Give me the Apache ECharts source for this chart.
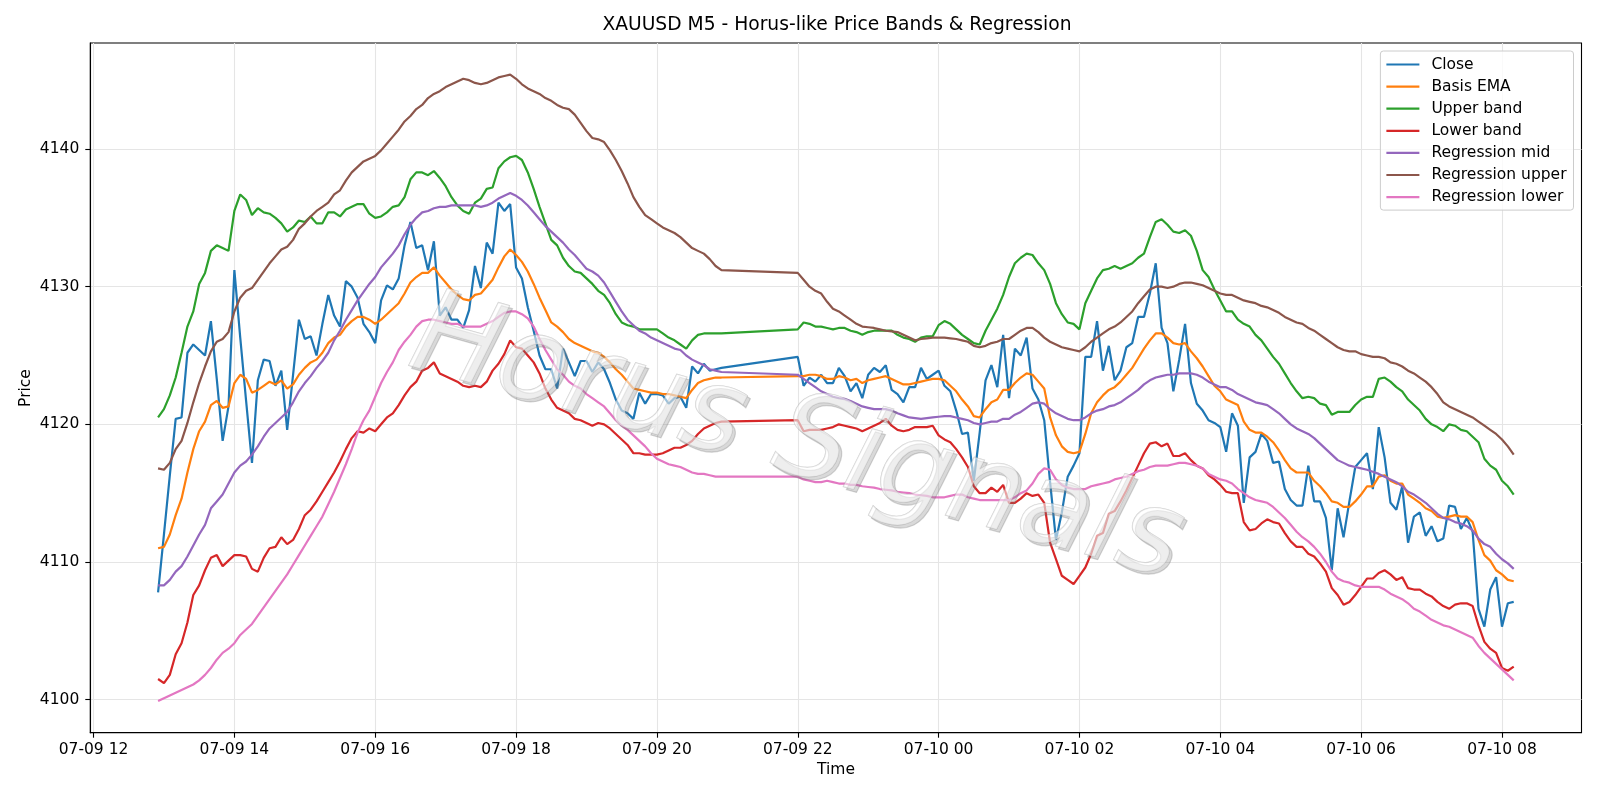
<!DOCTYPE html>
<html><head><meta charset="utf-8">
<script src="https://cdn.jsdelivr.net/npm/echarts@6/dist/echarts.min.js"></script>
<style>html,body{margin:0;padding:0;background:#fff}#c{width:1600px;height:800px}</style>
</head><body><div id="c"></div>
<script>
// ---- Data (minutes counted from 07-09 00:00) ----
const session1 = [775, 1255];   // 07-09 12:55 .. 20:55, 5-minute bars
const session2 = [1320, 1930];  // 07-09 22:00 .. 07-10 08:10
const xTickMinutes = [720, 840, 960, 1080, 1200, 1320, 1440, 1560, 1680, 1800, 1920];
const xTickLabels = ['07-09 12','07-09 14','07-09 16','07-09 18','07-09 20','07-09 22','07-10 00','07-10 02','07-10 04','07-10 06','07-10 08'];
const yTicks = [4100, 4110, 4120, 4130, 4140];

const close = [
4107.8,4112.0,4116.3,4120.4,4120.5,4125.2,4125.8,4125.4,4125.0,4127.5,
4123.3,4118.8,4121.3,4131.2,4126.3,4121.7,4117.2,4123.2,4124.7,4124.6,
4122.8,4123.9,4119.6,4123.6,4127.6,4126.2,4126.4,4125.0,4127.3,4129.4,
4127.9,4127.1,4130.4,4130.0,4129.2,4127.3,4126.7,4125.9,4129.0,4130.1,
4129.8,4130.6,4133.0,4134.7,4132.8,4133.0,4131.2,4133.3,4127.9,4128.5,
4127.6,4127.6,4127.0,4128.3,4131.5,4129.9,4133.2,4132.4,4136.1,4135.5,
4136.0,4131.4,4130.6,4128.5,4126.8,4125.0,4124.0,4124.0,4122.6,4125.5,
4124.5,4123.5,4124.6,4124.6,4123.8,4124.5,4124.0,4123.0,4121.8,4121.0,
4120.8,4120.4,4122.3,4121.5,4122.2,4122.2,4122.1,4121.5,4121.9,4122.0,
4121.2,4124.2,4123.7,4124.4,4123.9,4124.0,4124.1,
4124.9,4122.8,4123.4,4123.1,4123.6,4123.0,4123.0,4124.1,4123.5,4122.4,
4123.0,4121.9,4123.6,4124.1,4123.8,4124.3,4122.5,4122.2,4121.6,4122.7,
4122.7,4124.1,4123.3,4123.6,4123.9,4122.8,4122.4,4121.0,4119.3,4119.4,
4115.9,4119.4,4123.2,4124.3,4122.7,4126.5,4121.9,4125.5,4125.0,4126.3,
4122.6,4121.8,4120.3,4115.8,4111.6,4113.6,4116.2,4117.0,4117.9,4124.9,
4124.9,4127.5,4123.9,4125.7,4123.2,4123.9,4125.6,4125.9,4127.8,4127.8,
4129.5,4131.7,4127.0,4125.9,4122.4,4124.7,4127.3,4123.0,4121.5,4121.0,
4120.3,4120.1,4119.8,4118.0,4120.8,4119.9,4114.3,4117.6,4118.0,4119.3,
4118.8,4117.2,4117.3,4115.3,4114.5,4114.1,4114.1,4117.0,4114.4,4114.4,
4113.2,4109.4,4113.9,4111.8,4114.4,4116.9,4117.4,4117.9,4115.3,4119.8,
4117.6,4114.3,4113.8,4115.5,4111.4,4113.3,4113.6,4111.9,4112.6,4111.5,
4111.7,4114.1,4114.0,4112.4,4113.2,4112.2,4106.6,4105.3,4108.0,4108.9,
4105.3,4107.0,4107.1];

const basisEma = [
4111.0,4111.1,4112.0,4113.4,4114.6,4116.5,4118.2,4119.5,4120.2,4121.4,
4121.7,4121.2,4121.3,4123.0,4123.6,4123.3,4122.3,4122.5,4122.8,4123.1,
4122.9,4123.2,4122.6,4122.9,4123.6,4124.1,4124.5,4124.7,4125.2,4125.9,
4126.3,4126.5,4127.1,4127.5,4127.8,4127.8,4127.6,4127.3,4127.6,4128.0,
4128.4,4128.8,4129.5,4130.3,4130.7,4131.0,4131.0,4131.4,4130.8,4130.3,
4129.8,4129.4,4129.1,4129.0,4129.4,4129.5,4130.0,4130.5,4131.4,4132.2,
4132.7,4132.3,4131.8,4131.1,4130.2,4129.2,4128.3,4127.4,4127.1,4126.7,
4126.2,4125.9,4125.7,4125.5,4125.3,4125.2,4124.9,4124.5,4124.0,4123.6,
4123.1,4122.6,4122.5,4122.4,4122.3,4122.3,4122.2,4122.2,4122.1,4122.0,
4121.9,4122.5,4123.0,4123.2,4123.3,4123.4,4123.4,
4123.5,4123.5,4123.6,4123.6,4123.5,4123.3,4123.3,4123.5,4123.4,4123.2,
4123.3,4123.0,4123.2,4123.3,4123.4,4123.5,4123.3,4123.1,4122.9,4122.9,
4123.0,4123.1,4123.2,4123.3,4123.3,4123.2,4122.8,4122.4,4121.8,4121.3,
4120.6,4120.5,4121.1,4121.6,4121.8,4122.5,4122.5,4123.0,4123.4,4123.7,
4123.6,4123.1,4122.6,4120.5,4119.2,4118.4,4118.0,4117.9,4118.0,4119.3,
4120.8,4121.6,4122.1,4122.5,4122.7,4123.1,4123.6,4124.1,4124.8,4125.5,
4126.1,4126.6,4126.6,4126.3,4125.9,4125.8,4125.9,4125.3,4124.8,4124.2,
4123.5,4122.8,4122.4,4121.8,4121.6,4121.4,4120.2,4119.6,4119.4,4119.4,
4119.1,4118.7,4118.1,4117.4,4116.8,4116.5,4116.5,4116.5,4115.9,4115.5,
4115.0,4114.4,4114.3,4114.0,4114.0,4114.4,4114.9,4115.5,4115.5,4116.2,
4116.3,4115.9,4115.7,4115.7,4114.9,4114.6,4114.3,4113.9,4113.7,4113.3,
4113.2,4113.3,4113.4,4113.3,4113.3,4112.9,4111.6,4110.5,4110.1,4109.4,
4109.1,4108.7,4108.6];

const upperBand = [
4120.5,4121.1,4122.1,4123.4,4125.2,4127.1,4128.2,4130.2,4131.0,4132.6,
4133.0,4132.8,4132.6,4135.5,4136.7,4136.3,4135.2,4135.7,4135.4,4135.3,
4135.0,4134.6,4134.0,4134.3,4134.8,4134.7,4135.1,4134.6,4134.6,4135.4,
4135.4,4135.1,4135.6,4135.8,4136.0,4136.0,4135.3,4135.0,4135.1,4135.4,
4135.8,4135.9,4136.5,4137.8,4138.3,4138.3,4138.1,4138.4,4137.9,4137.3,
4136.5,4135.9,4135.5,4135.3,4136.1,4136.4,4137.1,4137.2,4138.6,4139.1,
4139.4,4139.5,4139.2,4138.3,4137.1,4135.8,4134.6,4133.4,4133.0,4132.1,
4131.5,4131.1,4131.0,4130.6,4130.2,4129.7,4129.4,4128.8,4128.0,4127.4,
4127.2,4127.1,4126.9,4126.9,4126.9,4126.9,4126.6,4126.3,4126.1,4125.8,
4125.5,4126.1,4126.5,4126.6,4126.6,4126.6,4126.6,
4126.9,4127.4,4127.3,4127.1,4127.1,4127.0,4126.9,4127.0,4127.0,4126.8,
4126.7,4126.5,4126.7,4126.8,4126.8,4126.8,4126.8,4126.5,4126.3,4126.2,
4126.0,4126.3,4126.4,4126.4,4127.2,4127.5,4127.3,4126.9,4126.5,4126.2,
4125.9,4125.8,4126.8,4127.6,4128.4,4129.4,4130.7,4131.7,4132.1,4132.4,
4132.3,4131.7,4131.2,4130.2,4128.8,4128.0,4127.4,4127.3,4126.9,4128.8,
4129.7,4130.6,4131.2,4131.3,4131.5,4131.3,4131.5,4131.7,4132.1,4132.4,
4133.6,4134.7,4134.9,4134.5,4134.0,4133.9,4134.1,4133.7,4132.6,4131.2,
4130.7,4129.8,4129.0,4128.2,4128.2,4127.6,4127.3,4127.1,4126.5,4126.1,
4125.5,4124.9,4124.4,4123.7,4123.0,4122.4,4121.9,4122.0,4121.9,4121.5,
4121.4,4120.7,4120.9,4120.9,4120.9,4121.4,4121.8,4122.0,4122.0,4123.3,
4123.4,4123.1,4122.7,4122.4,4121.8,4121.4,4121.0,4120.4,4120.0,4119.8,
4119.5,4120.0,4119.9,4119.6,4119.5,4119.1,4118.7,4117.5,4117.0,4116.7,
4115.9,4115.5,4114.9];

const lowerBand = [
4101.5,4101.2,4101.8,4103.3,4104.1,4105.6,4107.6,4108.3,4109.4,4110.3,
4110.5,4109.7,4110.1,4110.5,4110.5,4110.4,4109.5,4109.3,4110.3,4111.0,
4111.1,4111.8,4111.3,4111.6,4112.4,4113.4,4113.8,4114.4,4115.1,4115.8,
4116.5,4117.3,4118.2,4119.0,4119.5,4119.4,4119.7,4119.5,4120.0,4120.5,
4120.8,4121.4,4122.1,4122.7,4123.1,4123.9,4124.1,4124.5,4123.7,4123.5,
4123.3,4123.1,4122.8,4122.7,4122.8,4122.7,4123.1,4123.9,4124.4,4125.1,
4126.1,4125.6,4125.5,4125.0,4124.5,4123.7,4122.6,4121.8,4121.2,4121.0,
4120.8,4120.4,4120.3,4120.1,4119.9,4120.1,4120.0,4119.7,4119.3,4118.9,
4118.5,4117.9,4117.9,4117.8,4117.8,4117.8,4117.9,4118.1,4118.3,4118.3,
4118.5,4118.8,4119.3,4119.7,4119.9,4120.1,4120.2,
4120.3,4119.5,4119.6,4119.6,4119.6,4119.7,4119.8,4120.0,4119.9,4119.8,
4119.7,4119.5,4119.7,4119.9,4120.1,4120.4,4119.9,4119.6,4119.5,4119.6,
4119.8,4119.8,4119.8,4119.9,4119.2,4118.9,4118.7,4118.2,4117.6,4116.9,
4115.5,4115.0,4115.0,4115.4,4115.1,4115.6,4114.3,4114.3,4114.6,4115.0,
4114.8,4114.9,4114.3,4111.4,4110.2,4109.0,4108.7,4108.4,4109.0,4109.6,
4110.6,4111.9,4112.1,4113.5,4113.7,4114.4,4115.2,4116.1,4117.0,4117.9,
4118.6,4118.7,4118.4,4118.6,4117.7,4117.7,4117.9,4117.4,4117.0,4116.8,
4116.3,4116.0,4115.6,4115.1,4115.0,4115.0,4112.9,4112.3,4112.4,4112.8,
4113.1,4112.9,4112.8,4112.1,4111.5,4111.1,4111.1,4110.6,4110.4,4109.9,
4109.3,4108.1,4107.6,4106.9,4107.1,4107.6,4108.2,4108.8,4108.8,4109.2,
4109.4,4109.1,4108.7,4108.9,4108.1,4108.0,4108.0,4107.7,4107.5,4107.1,
4106.8,4106.6,4106.9,4107.0,4107.0,4106.8,4105.4,4104.2,4103.7,4103.4,
4102.3,4102.1,4102.4];

const regMid = [
4108.3,4108.3,4108.7,4109.3,4109.7,4110.4,4111.2,4112.0,4112.7,4113.9,
4114.4,4114.9,4115.7,4116.5,4117.0,4117.3,4117.8,4118.4,4119.1,4119.7,
4120.1,4120.5,4120.9,4121.6,4122.4,4123.0,4123.5,4124.1,4124.6,4125.2,
4126.1,4126.8,4127.6,4128.3,4129.0,4129.6,4130.2,4130.7,4131.4,4131.9,
4132.4,4133.0,4133.8,4134.5,4135.0,4135.4,4135.5,4135.7,4135.8,4135.8,
4135.9,4135.9,4135.9,4135.9,4135.9,4135.8,4135.9,4136.1,4136.4,4136.6,
4136.8,4136.6,4136.3,4135.9,4135.4,4134.9,4134.4,4134.0,4133.6,4133.2,
4132.7,4132.3,4131.8,4131.3,4131.1,4130.8,4130.3,4129.6,4128.9,4128.2,
4127.6,4127.2,4126.8,4126.6,4126.3,4126.1,4125.9,4125.7,4125.5,4125.4,
4125.0,4124.7,4124.5,4124.3,4124.0,4123.9,4123.8,
4123.6,4123.3,4123.0,4122.7,4122.4,4122.2,4122.0,4121.9,4121.85,4121.7,
4121.5,4121.3,4121.2,4121.1,4121.1,4121.1,4121.0,4120.8,4120.65,4120.5,
4120.45,4120.4,4120.45,4120.5,4120.55,4120.6,4120.6,4120.5,4120.4,4120.3,
4120.1,4120.0,4120.1,4120.2,4120.2,4120.4,4120.4,4120.7,4120.9,4121.2,
4121.5,4121.6,4121.5,4121.1,4120.8,4120.6,4120.4,4120.3,4120.3,4120.5,
4120.8,4121.0,4121.1,4121.3,4121.4,4121.6,4121.9,4122.2,4122.5,4122.9,
4123.2,4123.4,4123.5,4123.6,4123.6,4123.7,4123.7,4123.7,4123.6,4123.4,
4123.1,4122.9,4122.7,4122.7,4122.5,4122.2,4122.0,4121.8,4121.6,4121.5,
4121.4,4121.1,4120.8,4120.4,4120.0,4119.7,4119.5,4119.3,4119.0,4118.6,
4118.2,4117.8,4117.4,4117.2,4117.0,4116.9,4116.8,4116.7,4116.55,4116.4,
4116.2,4116.0,4115.8,4115.5,4115.1,4114.9,4114.6,4114.3,4113.9,4113.5,
4113.2,4113.1,4112.9,4112.8,4112.6,4112.3,4111.7,4111.3,4111.1,4110.6,
4110.2,4109.9,4109.5];

const regUpper = [
4116.8,4116.7,4117.2,4118.2,4118.8,4120.1,4121.6,4123.0,4124.2,4125.3,
4126.0,4126.2,4126.7,4128.2,4129.2,4129.7,4129.9,4130.5,4131.1,4131.7,
4132.2,4132.7,4132.9,4133.4,4134.2,4134.6,4135.1,4135.5,4135.8,4136.1,
4136.7,4137.0,4137.7,4138.3,4138.7,4139.1,4139.3,4139.5,4139.9,4140.4,
4140.9,4141.4,4142.0,4142.4,4142.9,4143.2,4143.7,4144.0,4144.2,4144.5,
4144.7,4144.9,4145.1,4145.0,4144.8,4144.7,4144.8,4145.0,4145.2,4145.3,
4145.4,4145.1,4144.7,4144.4,4144.2,4144.0,4143.7,4143.5,4143.2,4143.0,
4142.9,4142.5,4141.9,4141.3,4140.8,4140.7,4140.5,4139.9,4139.2,4138.4,
4137.5,4136.5,4135.8,4135.2,4134.9,4134.6,4134.3,4134.1,4133.9,4133.6,
4133.2,4132.8,4132.6,4132.4,4132.0,4131.5,4131.2,
4131.0,4130.5,4130.0,4129.7,4129.5,4128.9,4128.4,4128.2,4127.9,4127.6,
4127.3,4127.1,4127.05,4127.0,4126.9,4126.8,4126.75,4126.7,4126.5,4126.3,
4126.1,4126.2,4126.25,4126.3,4126.3,4126.3,4126.25,4126.2,4126.1,4126.0,
4125.7,4125.6,4125.7,4125.9,4126.0,4126.2,4126.2,4126.5,4126.8,4127.0,
4127.0,4126.7,4126.3,4126.0,4125.8,4125.6,4125.5,4125.4,4125.3,4125.6,
4126.0,4126.3,4126.6,4126.9,4127.1,4127.4,4127.8,4128.2,4128.8,4129.3,
4129.8,4130.0,4130.0,4129.9,4130.0,4130.2,4130.3,4130.3,4130.2,4130.1,
4129.9,4129.7,4129.5,4129.4,4129.4,4129.2,4129.0,4128.9,4128.8,4128.6,
4128.5,4128.3,4128.1,4127.8,4127.6,4127.4,4127.3,4127.0,4126.8,4126.5,
4126.2,4125.9,4125.6,4125.4,4125.3,4125.3,4125.1,4125.0,4124.9,4124.9,
4124.8,4124.5,4124.4,4124.2,4123.9,4123.7,4123.4,4123.1,4122.7,4122.2,
4121.6,4121.3,4121.1,4120.9,4120.7,4120.5,4120.2,4119.9,4119.6,4119.3,
4118.9,4118.4,4117.8];

const regLower = [
4099.9,4100.1,4100.3,4100.5,4100.7,4100.9,4101.1,4101.4,4101.8,4102.3,
4102.9,4103.4,4103.7,4104.1,4104.7,4105.1,4105.5,4106.1,4106.7,4107.3,
4107.9,4108.5,4109.1,4109.8,4110.5,4111.2,4111.9,4112.6,4113.3,4114.2,
4115.1,4116.1,4117.1,4118.2,4119.4,4120.3,4121.0,4122.0,4123.0,4123.8,
4124.5,4125.4,4126.0,4126.5,4127.1,4127.5,4127.6,4127.6,4127.5,4127.4,
4127.3,4127.3,4127.1,4127.1,4127.1,4127.1,4127.3,4127.5,4127.8,4128.1,
4128.2,4128.2,4128.0,4127.7,4127.1,4126.2,4125.4,4124.7,4124.0,4123.6,
4123.1,4122.8,4122.6,4122.2,4121.9,4121.6,4121.3,4120.8,4120.3,4119.9,
4119.6,4119.2,4118.8,4118.4,4117.9,4117.5,4117.3,4117.1,4117.0,4116.9,
4116.7,4116.5,4116.4,4116.4,4116.3,4116.2,4116.2,
4116.2,4116.0,4115.9,4115.8,4115.8,4115.9,4115.8,4115.7,4115.7,4115.6,
4115.6,4115.5,4115.45,4115.4,4115.3,4115.25,4115.2,4115.1,4115.05,4115.0,
4114.9,4114.85,4114.8,4114.7,4114.7,4114.7,4114.8,4114.9,4114.9,4114.7,
4114.6,4114.5,4114.5,4114.5,4114.5,4114.5,4114.5,4114.7,4115.0,4115.2,
4115.7,4116.4,4116.8,4116.7,4116.0,4115.6,4115.4,4115.3,4115.3,4115.3,
4115.5,4115.6,4115.7,4115.8,4116.0,4116.1,4116.2,4116.4,4116.6,4116.7,
4116.9,4117.0,4117.0,4117.0,4117.1,4117.2,4117.2,4117.1,4117.0,4116.8,
4116.4,4116.2,4116.0,4115.9,4115.7,4115.3,4115.0,4114.7,4114.5,4114.4,
4114.3,4114.0,4113.6,4113.2,4112.7,4112.2,4111.8,4111.5,4111.1,4110.6,
4110.0,4109.3,4108.8,4108.6,4108.5,4108.3,4108.2,4108.2,4108.2,4108.2,
4108.0,4107.7,4107.5,4107.3,4107.0,4106.6,4106.4,4106.1,4105.8,4105.6,
4105.4,4105.3,4105.1,4104.9,4104.7,4104.5,4103.9,4103.4,4103.0,4102.6,
4102.2,4101.8,4101.4];

// ---- Build time grid (5-minute bars, with the session break) ----
const times = [];
for (let m = session1[0]; m <= session1[1]; m += 5) times.push(m);
for (let m = session2[0]; m <= session2[1]; m += 5) times.push(m);
const pair = vals => vals.map((v, i) => [times[i], v]);

const FONT = '"DejaVu Sans", "Liberation Sans", sans-serif';
const seriesDefs = [
  ['Close', close, '#1f77b4'],
  ['Basis EMA', basisEma, '#ff7f0e'],
  ['Upper band', upperBand, '#2ca02c'],
  ['Lower band', lowerBand, '#d62728'],
  ['Regression mid', regMid, '#9467bd'],
  ['Regression upper', regUpper, '#8c564b'],
  ['Regression lower', regLower, '#e377c2']
];

const chart = echarts.init(document.getElementById('c'), null, {renderer: 'canvas'});
const wmText = 'Horus Signals';
const wmRot = -0.272;
chart.setOption({
  animation: false,
  backgroundColor: '#ffffff',
  color: seriesDefs.map(s => s[2]),
  grid: {left: 90.3, right: 18.5, top: 43, bottom: 67.3, show: true, borderColor: '#000', borderWidth: 1.1, containLabel: false},
  legend: {
    orient: 'vertical', right: 26.5, top: 51,
    data: seriesDefs.map(s => s[0]),
    icon: 'rect', itemWidth: 33, itemHeight: 2.2, itemGap: 6.1,
    padding: [5.5, 7, 5, 6],
    backgroundColor: 'rgba(255,255,255,0.8)', borderColor: '#cccccc', borderWidth: 1, borderRadius: 3,
    textStyle: {fontFamily: FONT, fontSize: 15.5, color: '#000', lineHeight: 16, padding: [0, 0, 0, 7]}
  },
  xAxis: {
    type: 'value', min: 717.25, max: 1987.75,
    axisLine: {show: true, onZero: false, lineStyle: {color: '#000', width: 1.1}},
    axisTick: {show: true, customValues: xTickMinutes, length: 5, lineStyle: {color: '#000', width: 1.1}},
    axisLabel: {customValues: xTickMinutes, formatter: v => xTickLabels[xTickMinutes.indexOf(v)] || '', color: '#000', fontFamily: FONT, fontSize: 15.5, margin: 9},
    splitLine: {show: true, lineStyle: {color: '#e5e5e5', width: 1.1}}
  },
  yAxis: {
    type: 'value', min: 4097.6, max: 4147.7,
    axisLine: {show: true, onZero: false, lineStyle: {color: '#000', width: 1.1}},
    axisTick: {show: true, customValues: yTicks, length: 5, lineStyle: {color: '#000', width: 1.1}},
    axisLabel: {customValues: yTicks, formatter: v => String(Math.round(v)), color: '#000', fontFamily: FONT, fontSize: 15.5, margin: 11},
    splitLine: {show: true, lineStyle: {color: '#e5e5e5', width: 1.1}}
  },
  series: seriesDefs.map(s => ({
    name: s[0], type: 'line', data: pair(s[1]), showSymbol: false, symbol: 'none',
    lineStyle: {width: 2.2, color: s[2]}, itemStyle: {color: s[2]}, emphasis: {disabled: true}
  })),
  graphic: [
    {type: 'text', x: 837, y: 25.5, z: 50, style: {text: 'XAUUSD M5 - Horus-like Price Bands & Regression', fontFamily: FONT, fontSize: 18.7, fill: '#000', align: 'center', verticalAlign: 'middle'}},
    {type: 'text', x: 836, y: 770, z: 50, style: {text: 'Time', fontFamily: FONT, fontSize: 15.5, fill: '#000', align: 'center', verticalAlign: 'middle'}},
    {type: 'text', x: 25.5, y: 388, rotation: Math.PI / 2, z: 50, style: {text: 'Price', fontFamily: FONT, fontSize: 15.5, fill: '#000', align: 'center', verticalAlign: 'middle'}},
    {type: 'text', x: 799, y: 445, rotation: wmRot, z: 40, style: {text: wmText, fontFamily: FONT, fontStyle: 'italic', fontSize: 116, fill: 'rgba(120,120,120,0.28)', stroke: 'rgba(120,120,120,0.3)', lineWidth: 1.2, align: 'center', verticalAlign: 'middle'}},
    {type: 'text', x: 796, y: 442, rotation: wmRot, z: 41, style: {text: wmText, fontFamily: FONT, fontStyle: 'italic', fontSize: 116, fill: 'rgba(255,255,255,0.55)', stroke: 'rgba(170,170,170,0.55)', lineWidth: 1.2, align: 'center', verticalAlign: 'middle'}}
  ]
});
</script></body></html>
